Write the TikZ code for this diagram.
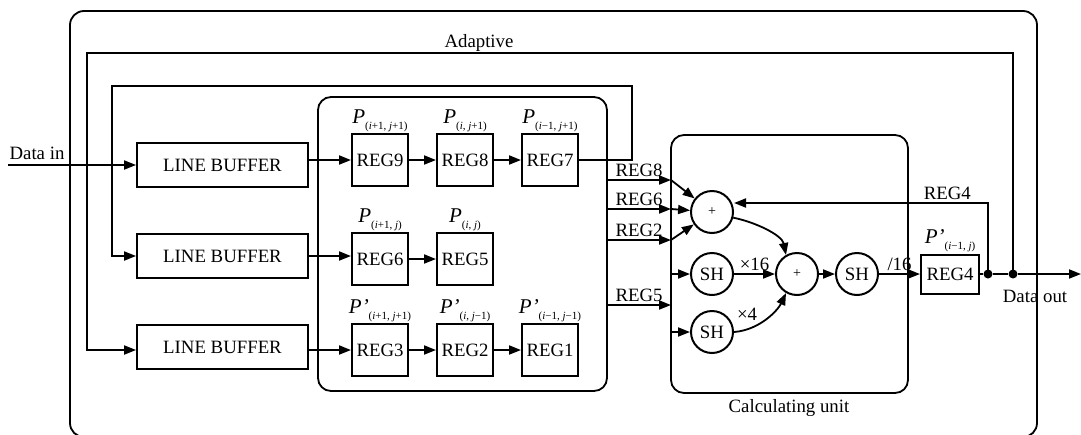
\documentclass[tikz,border=0pt]{standalone}
\usepackage{fontspec}
\setmainfont{Liberation Serif}
\usetikzlibrary{arrows.meta,positioning}
\newcommand{\plab}[2]{{\fontsize{10.5}{11}\selectfont\itshape #1}\raisebox{-0.7ex}{\fontsize{5.5}{6}\selectfont #2}}
\newcommand{\ii}{\textit{i}}
\newcommand{\jj}{\textit{j}}
\begin{document}
\begin{tikzpicture}[x=0.5pt,y=-0.5pt,
    >={Triangle[length=6pt,width=4.5pt]},
    every node/.style={font=\fontsize{9.4}{10}\selectfont},
    wire/.style={line width=0.9pt},
    regbox/.style={draw,line width=1pt,minimum width=28pt,minimum height=26pt,inner sep=0pt},
    bufbox/.style={draw,line width=0.9pt,minimum width=85.5pt,minimum height=22pt,inner sep=0pt},
    opcirc/.style={draw,circle,line width=1pt,minimum size=21pt,inner sep=0pt},
    addcirc/.style={opcirc,font=\fontsize{7}{8}\selectfont},
    jdot/.style={circle,fill,inner sep=0pt,minimum size=4.5pt},
    plabel/.style={above=0.5pt,inner sep=0pt},
    wlabel/.style={above,inner sep=1pt}]
  \useasboundingbox (0,0) rectangle (1081,434);
  % frames
  \draw [wire, rounded corners=7pt] (70,11) rectangle (1037,437);
  \draw [wire, rounded corners=6.5pt] (318,97) rectangle (607,391);
  \draw [wire, rounded corners=6.5pt] (671,135) rectangle (908,393);
  \node (adapt) at (479,43) {Adaptive};
  \node (calc) at (789,408) {Calculating unit};
  % line buffers
  \node [bufbox] (lb1) at (222.5,165) {LINE BUFFER};
  \node [bufbox] (lb2) at (222.5,256) {LINE BUFFER};
  \node [bufbox] (lb3) at (222.5,347) {LINE BUFFER};
  % registers
  \node [regbox] (reg9) at (380,160) {REG9};
  \node [regbox] (reg8) at (465,160) {REG8};
  \node [regbox] (reg7) at (550,160) {REG7};
  \node [regbox] (reg6) at (380,259) {REG6};
  \node [regbox] (reg5) at (465,259) {REG5};
  \node [regbox] (reg3) at (380,350) {REG3};
  \node [regbox] (reg2) at (465,350) {REG2};
  \node [regbox] (reg1) at (550,350) {REG1};
  \node [plabel] (p9) at (reg9.north) {\plab{P}{(\ii+1, \jj+1)}};
  \node [plabel] (p8) at (reg8.north) {\plab{P}{(\ii, \jj+1)}};
  \node [plabel] (p7) at (reg7.north) {\plab{P}{(\ii−1, \jj+1)}};
  \node [plabel] (p6) at (reg6.north) {\plab{P}{(\ii+1, \jj)}};
  \node [plabel] (p5) at (reg5.north) {\plab{P}{(\ii, \jj)}};
  \node [plabel] (p3) at (reg3.north) {\plab{P’}{(\ii+1, \jj+1)}};
  \node [plabel] (p2) at (reg2.north) {\plab{P’}{(\ii, \jj−1)}};
  \node [plabel] (p1) at (reg1.north) {\plab{P’}{(\ii−1, \jj−1)}};
  % calculating unit
  \node [addcirc] (add1) at (712,212) {+};
  \node [opcirc] (sh1) at (712,274) {SH};
  \node [opcirc] (sh2) at (712,332) {SH};
  \node [addcirc] (add2) at (797,274) {+};
  \node [opcirc] (sh3) at (857,274) {SH};
  \node [regbox, minimum width=29pt, minimum height=19.5pt] (reg4) at (950,274) {REG4};
  \node [plabel] (p4) at (reg4.north) {\plab{P’}{(\ii−1, \jj)}};
  \node [jdot] (j1) at (988,274) {};
  \node [jdot] (j2) at (1013,274) {};
  \coordinate (din) at (8,165);
  \coordinate (dout) at (1081,274);
  \coordinate (fbturn) at (988,203);
  \coordinate (b8) at (607,180);
  \coordinate (c8) at (671,180);
  \coordinate (b6) at (607,209);
  \coordinate (c6) at (671,209);
  \coordinate (b2) at (607,240);
  \coordinate (c2) at (671,240);
  \coordinate (b5) at (607,305);
  \coordinate (c5) at (671,305);
  \node (dinlab) at (37,153) {Data in};
  \node (doutlab) at (1035,296) {Data out};
  % data path
  \draw [wire, ->] (din) -- (lb1.west);
  \draw [wire, ->] (lb1.east |- reg9.west) -- (reg9.west);
  \draw [wire, ->] (reg9) -- (reg8);
  \draw [wire, ->] (reg8) -- (reg7);
  \draw [wire, ->] (lb2.east) -- (lb2.east -| reg6.west);
  \draw [wire, ->] (reg6) -- (reg5);
  \draw [wire, ->] (lb3.east |- reg3.west) -- (reg3.west);
  \draw [wire, ->] (reg3) -- (reg2);
  \draw [wire, ->] (reg2) -- (reg1);
  \draw [wire, ->] (reg7.east) -- ++(53,0) |- (112,86) |- (lb2.west);
  \draw [wire, ->] (j2.center) |- (87,53) |- (lb3.west |- reg3.west);
  % into the calculating unit
  \draw [wire, ->] (b8) -- node [wlabel] {REG8} (c8);
  \draw [wire, ->] (b6) -- node [wlabel] {REG6} (c6);
  \draw [wire, ->] (b2) -- node [wlabel] {REG2} (c2);
  \draw [wire, ->] (b5) -- node [wlabel] {REG5} (c5);
  \draw [wire, ->] (c8) -- (add1);
  \draw [wire, ->] (c6) -- (add1);
  \draw [wire, ->] (c2) -- (add1);
  \draw [wire, ->] (sh1 -| c5) -- (sh1);
  \draw [wire, ->] (sh2 -| c5) -- (sh2);
  \draw [wire, ->] (add1.-15) .. controls (755,222) and (782,235) .. (add2.120);
  \draw [wire, ->] (sh1) -- node [wlabel] {×16} (add2);
  \draw [wire, ->] (sh2.east) .. controls (760,330) and (778,310) .. (add2.-120);
  \node (x4) at (747,314) {×4};
  \draw [wire, ->] (add2) -- (sh3);
  \draw [wire, ->] (sh3) -- node [wlabel] {/16} (reg4);
  \draw [wire] (reg4) -- (j1) -- (j2);
  \draw [wire, ->] (j2) -- (dout);
  \draw [wire, ->] (j1.center) -- (fbturn) -- node [wlabel, pos=0.16] {REG4} (fbturn -| add1.east);
\end{tikzpicture}
\end{document}
